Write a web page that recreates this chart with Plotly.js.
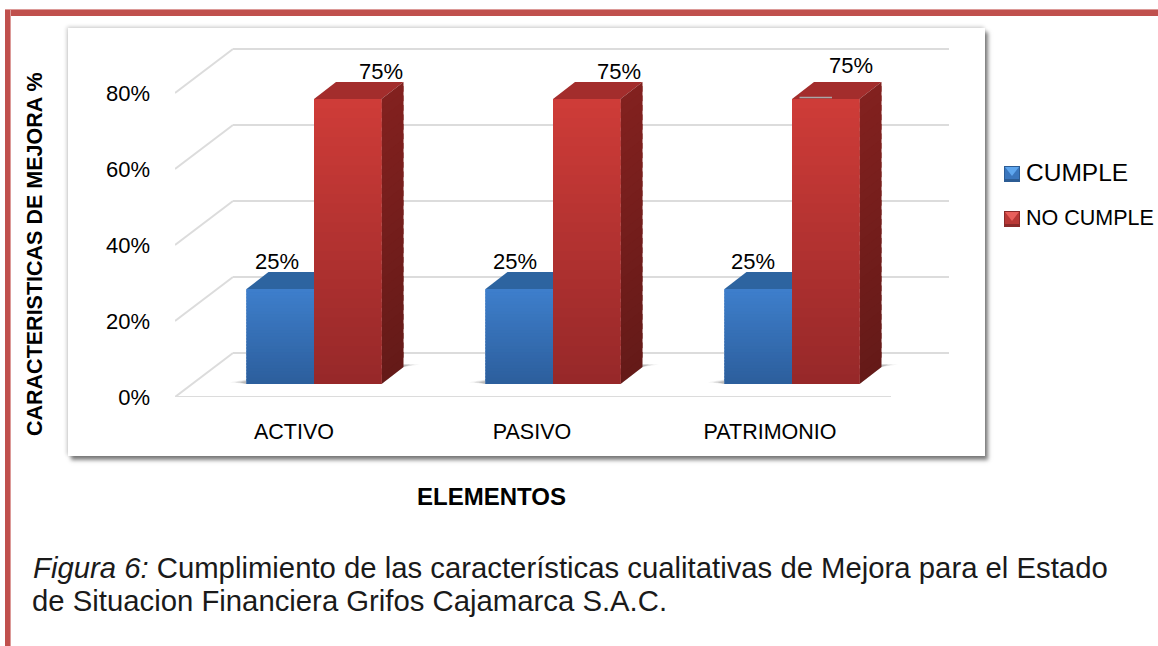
<!DOCTYPE html>
<html><head><meta charset="utf-8">
<script src="https://cdn.plot.ly/plotly-3.0.1.min.js"></script>
<style>
html,body{margin:0;padding:0;background:#fff;width:1158px;height:646px;overflow:hidden}
#frameTop{position:absolute;left:5px;top:10px;width:1153px;height:6px;background:#c0504d;box-shadow:0 -1px 0 #dc9a98}
#frameLeft{position:absolute;left:5px;top:10px;width:5px;height:636px;background:#c0504d;box-shadow:1px 0 0 #dc9a98}
#panel{position:absolute;left:68px;top:28px;width:917px;height:428px;background:#fff;box-shadow:3px 4px 4px rgba(0,0,0,.5),-1px -1px 4px rgba(0,0,0,.22)}
#chart{position:absolute;left:0;top:0;width:1158px;height:646px}
.legendpoints{visibility:hidden}
.legend .groups:nth-of-type(1) .legendtext{font-size:24.5px !important}
</style></head><body>
<div id="frameTop"></div><div id="frameLeft"></div><div id="panel"></div><div id="chart"></div>
<script>
const categories = ['ACTIVO','PASIVO','PATRIMONIO'];
const cumple = [25,25,25];
const noCumple = [75,75,75];
const yTicks = [0,20,40,60,80];
const captionLine1 = '<i>Figura 6:</i> Cumplimiento de las características cualitativas de Mejora para el Estado';
const captionLine2 = 'de Situacion Financiera Grifos Cajamarca S.A.C.';

// pixel geometry of the plot area
const L=175,R=949,T=40,B=397;
const pxX=238, pxY=3.8;
const xRange=[-0.5,-0.5+(R-L)/pxX], yRange=[0,(B-T)/pxY];
const base=13/pxY, barW=67.5/pxX;
const offB=[0,1,2].map(k=>(-47.5+k)/pxX), offR=[0,1,2].map(k=>(20+k)/pxX);
const ddx=22/pxX, ddy=17/pxY;         // bar depth
const wdx=58/pxX, wdy=44/pxY;         // wall depth
const FONT='"Liberation Sans",Arial,sans-serif';
const px=x=>(x-L)/(R-L), py=y=>(B-y)/(B-T);

const shapes=[];
function poly(pts,fill,layer,op){
  shapes.push({type:'path',xref:'x',yref:'y',layer:layer||'below',opacity:op==null?1:op,
    path:'M'+pts.map(p=>p[0]+','+p[1]).join('L')+'Z',fillcolor:fill,line:{width:0}});
}
function seg(x0,y0,x1,y1,c,w,layer){
  shapes.push({type:'line',xref:'x',yref:'y',layer:layer||'below',x0,y0,x1,y1,line:{color:c,width:w}});
}
function mix(a,b,t){
  return 'rgb('+a.map((v,i)=>Math.round(v+(b[i]-v)*t)).join(',')+')';
}
// grid: floor/wall
yTicks.forEach(v=>{
  seg(-0.5,v,-0.5+wdx,v+wdy,'#dcdcdc',2);
  seg(-0.5+wdx,v+wdy,xRange[1],v+wdy,'#dcdcdc',2);
});
seg(-0.5,0,-0.5+(891-175)/pxX,0,'#dcdcdc',2);

const N=30;
const BLUE={top:[62,127,204],bot:[44,94,156],lid:[45,100,160]};
const RED={top:[207,60,56],bot:[150,40,41],lid:[163,45,44],sideTop:[130,33,31],sideBot:[100,26,24]};
function bar3d(i,off,val,C,side){
  const x0=i+off,x1=x0+barW,y0=base,y1=base+val;
  // floor shadow
  [[.08,1],[.14,.7],[.2,.4]].forEach(s=>{
    const o=s[1];
    poly([[x0-ddx*.75*o,y0+ddy*.1],[x0,y0],[x1,y0],[x1+ddx,y0+ddy],[x1+ddx+ddx*.75*o,y0+ddy*1.15],[x1+ddx,y0+ddy*1.15]],'#444','below',s[0]);
  });
  // top face
  poly([[x0,y1],[x1,y1],[x1+ddx,y1+ddy],[x0+ddx,y1+ddy]],mix(C.lid,C.lid,0));
  // side face
  if(side){
    for(let k=0;k<N;k++){
      const a=y0+val*k/N,b=Math.min(y1,y0+val*(k+1)/N+1.5);
      poly([[x1,a],[x1+ddx,a+ddy],[x1+ddx,b+ddy],[x1,b]],mix(C.sideBot,C.sideTop,(k+.5)/N));
    }
  }
  // front gradient
  for(let k=0;k<N;k++){
    const a=y0+val*k/N,b=Math.min(y1,y0+val*(k+1)/N+0.5);
    shapes.push({type:'rect',xref:'x',yref:'y',layer:'above',x0,x1,y0:a,y1:b,
      fillcolor:mix(C.bot,C.top,(k+.5)/N),line:{width:0}});
  }
}
categories.forEach((c,i)=>{
  bar3d(i,offB[i],cumple[i],BLUE,false);
  bar3d(i,offR[i],noCumple[i],RED,true);
});
// small grey mark on the third red bar
seg(2+offR[2]+7.5/pxX,base+noCumple[2]+0.4,2+offR[2]+40/pxX,base+noCumple[2]+0.4,'#a8a8a8',1.5,'above');

// legend swatches (bevelled)
function swatch(x,y,s,outer,light,mid){
  const a=(pts,c)=>shapes.push({type:'path',xref:'paper',yref:'paper',layer:'above',
    path:'M'+pts.map(p=>px(p[0])+','+py(p[1])).join('L')+'Z',fillcolor:c,line:{width:0}});
  a([[x,y],[x+s,y],[x+s,y+s],[x,y+s]],outer);
  a([[x+1,y+1],[x+s-1,y+1],[x+s-1,y+s-3],[x+1,y+s-3]],mid);
  a([[x+1,y+1],[x+s-1,y+1],[x+s/2,y+s*0.62]],light);
}
swatch(1004,166,16,'#2c5c94','#5ea6ee','#3a76bd');
swatch(1004,211,16,'#8a2a2a','#e8605c','#b93836');

const ann=[];
function label(x,y,text,nx,ny){
  ann.push({x,y,text,xref:'x',yref:'y',showarrow:false,xanchor:'center',yanchor:'middle',xshift:nx,yshift:ny,
    font:{family:FONT,size:22,color:'#000'}});
}
const blueNudgeX=[-3,-4,-5], redNudgeX=[33,32,25], redNudgeY=[28,28,34];
categories.forEach((c,i)=>{
  label(i+offB[i]+barW/2,base+cumple[i],cumple[i]+'%',blueNudgeX[i],28);
  label(i+offR[i]+barW/2,base+noCumple[i],noCumple[i]+'%',redNudgeX[i],redNudgeY[i]);
});
function paperText(x,y,text,size,extra){
  ann.push(Object.assign({xref:'paper',yref:'paper',x:px(x),y:py(y),text,showarrow:false,xanchor:'center',yanchor:'middle',
    font:{family:FONT,size:size,color:'#000'}},extra||{}));
}
paperText(491,497,'<b>ELEMENTOS</b>',24);
paperText(35,254,'<b>CARACTERISTICAS DE MEJORA %</b>',21.5,{textangle:-90});
paperText(31,567,captionLine1,29.3,{xanchor:'left',font:{family:FONT,size:29.3,color:'#1a1a1a'}});
paperText(30,600,captionLine2,29.3,{xanchor:'left',font:{family:FONT,size:29.3,color:'#1a1a1a'}});

const traces=[
 {type:'bar',name:'CUMPLE',legendgroup:'a',x:categories,y:cumple,base:base,width:barW,offset:offB,marker:{color:'#3570b5'},hoverinfo:'skip'},
 {type:'bar',name:'NO CUMPLE',legendgroup:'b',x:categories,y:noCumple,base:base,width:barW,offset:offR,marker:{color:'#b33332'},hoverinfo:'skip'}
];
const layout={
  width:1158,height:646,
  paper_bgcolor:'rgba(0,0,0,0)',plot_bgcolor:'rgba(0,0,0,0)',
  margin:{l:L,r:1158-R,t:T,b:646-B,autoexpand:false,pad:0},
  barmode:'overlay',
  font:{family:FONT,color:'#000'},
  xaxis:{type:'category',categoryorder:'array',categoryarray:categories,range:xRange,showgrid:false,zeroline:false,showline:false,ticks:'',
    tickfont:{size:21.5,family:FONT,color:'#000'},ticklabelstandoff:19},
  yaxis:{range:yRange,tickvals:yTicks,ticktext:yTicks.map(v=>v+'%'),showgrid:false,zeroline:false,showline:false,ticks:'',
    tickfont:{size:22,family:FONT,color:'#000'},ticklabelstandoff:24},
  legend:{x:px(986),xanchor:'left',y:py(152),yanchor:'top',font:{size:21.5,family:FONT,color:'#000'},itemwidth:30,tracegroupgap:13,bgcolor:'rgba(0,0,0,0)',traceorder:'grouped'},
  showlegend:true,
  shapes:shapes,annotations:ann
};
Plotly.newPlot('chart',traces,layout,{displayModeBar:false,staticPlot:true});
</script></body></html>
